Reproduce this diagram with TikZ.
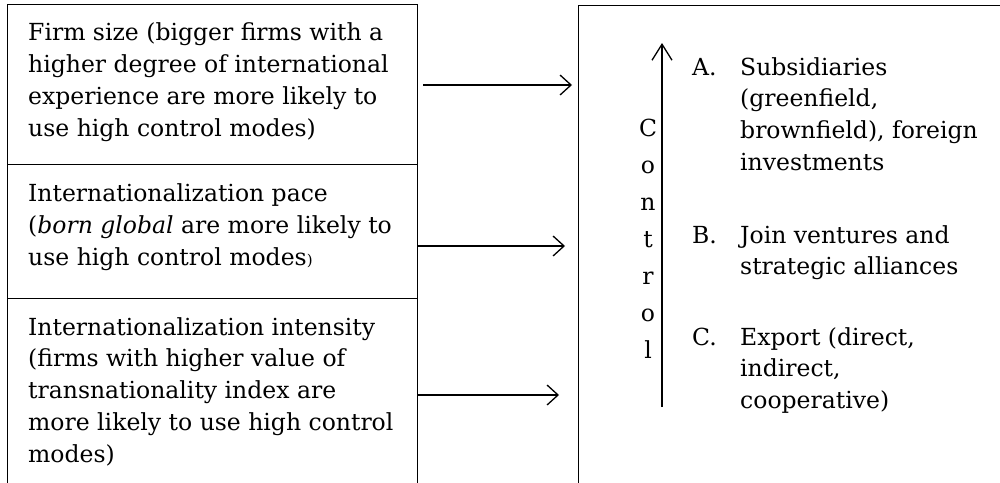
\documentclass[tikz,border=0pt]{standalone}
\usepackage{fontspec}
\setmainfont{DejaVu Serif}
\usetikzlibrary{arrows.meta}
\newcommand\blk[1]{\vtop{\baselineskip=31.8pt\lineskiplimit=-100pt\lineskip=0pt\halign{##\hfil\cr#1\crcr}}}
\newcommand\ctr[1]{\vtop{\baselineskip=36.9pt\lineskiplimit=-100pt\lineskip=0pt\halign{\hfil##\hfil\cr#1\crcr}}}
\begin{document}
\begin{tikzpicture}[x=1pt,y=-1pt,
  font=\fontsize{23.5}{31.8}\selectfont,
  box/.style={draw, line width=1.2pt, anchor=north west, inner sep=0pt},
  txt/.style={anchor=base west, inner sep=0pt},
  conn/.style={-{Straight Barb[length=11pt,width=20pt,line width=1.3pt]}, line width=1.3pt},
  up/.style={-{Straight Barb[length=16pt,width=20pt,line width=1.3pt]}, line width=1.3pt}]
\useasboundingbox (0,0) rectangle (1000,482);
% boxes
\node[box, minimum width=410pt, minimum height=160pt] (b1) at (7,4) {};
\node[box, minimum width=410pt, minimum height=134pt] (b2) at (7,164) {};
\node[box, minimum width=410pt, minimum height=230pt] (b3) at (7,298) {};
\node[box, minimum width=480pt, minimum height=530pt] (rb) at (578,5) {};
% left texts
\node[txt] (t1) at (28,40.7) {\blk{Firm size (bigger firms with a\cr higher degree of international\cr experience are more likely to\cr use high control modes)}};
\node[txt] (t2) at (28,201.7) {\blk{Internationalization pace\cr (\textit{born global} are more likely to\cr use high control modes{\fontsize{15}{15}\selectfont)}}};
\node[txt] (t3) at (28,335) {\blk{Internationalization intensity\cr (firms with higher value of\cr transnationality index are\cr more likely to use high control\cr modes)}};
% arrows
\coordinate (s1) at (423,85);
\coordinate (s2) at (418,246);
\coordinate (s3) at (418,395);
\draw[conn, shorten >=6pt] (s1) -- (s1 -| rb.west);
\draw[conn, shorten >=13pt] (s2) -- (s2 -| rb.west);
\draw[conn, shorten >=19pt] (s3) -- (s3 -| rb.west);
% control axis
\coordinate (vb) at (662,407);
\coordinate (vt) at (662,43);
\draw[up] (vb) -- (vt);
\node[anchor=base, inner sep=0pt] (ctl) at (648,136.7) {\ctr{C\cr o\cr n\cr t\cr r\cr o\cr l}};
% list
\node[txt] (la) at (692,75) {A.};
\node[txt] (ta) at (740,75) {\blk{Subsidiaries\cr (greenfield,\cr brownfield), foreign\cr investments}};
\node[txt] (lb) at (692,243) {B.};
\node[txt] (tb) at (740,243) {\blk{Join ventures and\cr strategic alliances}};
\node[txt] (lc) at (692,345) {C.};
\node[txt] (tc) at (740,345) {\blk{Export (direct,\cr indirect,\cr cooperative)}};
\end{tikzpicture}
\end{document}
